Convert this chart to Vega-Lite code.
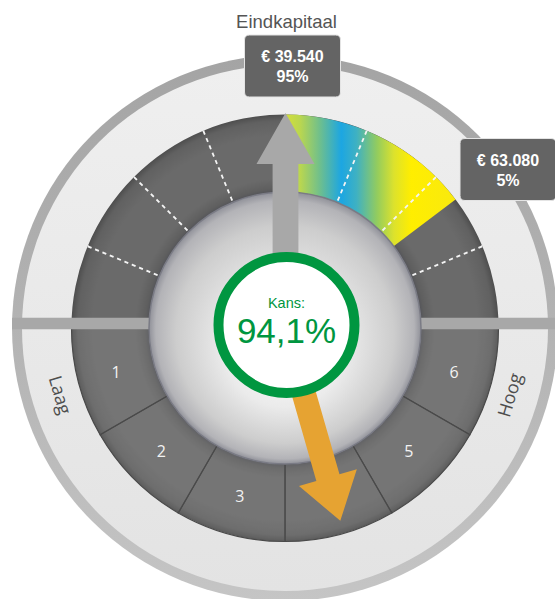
{
  "$schema": "https://vega.github.io/schema/vega-lite/v6.json",
  "width": 540,
  "height": 542,
  "autosize": {"type": "none"},
  "padding": {"left": 15, "top": 57, "right": 0, "bottom": 0},
  "background": "#ffffff",
  "config": {"view": {"stroke": null}, "text": {"font": "Liberation Sans"}},
  "datasets": {
    "verdeling": [{"van": 0, "tot": 53}],
    "grenzen": [{"hoek": 292.5}, {"hoek": 315}, {"hoek": 337.5}, {"hoek": 22.5}, {"hoek": 45}, {"hoek": 67.5}],
    "risicoprofiel": [
      {"profiel": "", "helft": "boven", "breedte": 90, "volgorde": 0},
      {"profiel": "6", "helft": "onder", "breedte": 30, "volgorde": 1},
      {"profiel": "5", "helft": "onder", "breedte": 30, "volgorde": 2},
      {"profiel": "4", "helft": "onder", "breedte": 30, "volgorde": 3},
      {"profiel": "3", "helft": "onder", "breedte": 30, "volgorde": 4},
      {"profiel": "2", "helft": "onder", "breedte": 30, "volgorde": 5},
      {"profiel": "1", "helft": "onder", "breedte": 30, "volgorde": 6},
      {"profiel": "", "helft": "boven", "breedte": 90, "volgorde": 7}
    ],
    "schaal": [{"tekst": "Laag", "hoek": 253.4}, {"tekst": "Hoog", "hoek": 106.6}],
    "pijlen": [{"pijl": "Eindkapitaal", "hoek": 0}, {"pijl": "Kans", "hoek": 164}],
    "kans": [{"label": "Kans:", "waarde": "94,1%"}],
    "eindkapitaal": [
      {"kop": "Eindkapitaal", "bedrag": "€ 39.540", "percentiel": "95%", "x": 7.5, "y": 262},
      {"kop": "", "bedrag": "€ 63.080", "percentiel": "5%", "x": 223, "y": 158.5}
    ]
  },
  "layer": [
    {
      "data": {"values": [{"onderdeel": "rand"}]},
      "mark": {"type": "arc", "theta": 0, "theta2": 6.2832, "outerRadius": 273, "innerRadius": 0,
        "fill": {"gradient": "linear", "x1": 0, "y1": 0, "x2": 0, "y2": 1,
          "stops": [{"offset": 0, "color": "#a4a4a4"}, {"offset": 0.5, "color": "#b3b3b3"}, {"offset": 1, "color": "#c5c5c5"}]}},
      "encoding": {}
    },
    {
      "data": {"values": [{"onderdeel": "ring"}]},
      "mark": {"type": "arc", "theta": 0, "theta2": 6.2832, "outerRadius": 263, "innerRadius": 0,
        "fill": {"gradient": "linear", "x1": 0, "y1": 0, "x2": 0, "y2": 1,
          "stops": [{"offset": 0, "color": "#efefef"}, {"offset": 1, "color": "#e3e3e3"}]}},
      "encoding": {}
    },
    {
      "data": {"values": [{"onderdeel": "wijzerplaat"}]},
      "mark": {"type": "arc", "theta": 0, "theta2": 6.2832, "outerRadius": 213.5, "innerRadius": 136,
        "fill": {"gradient": "radial", "x1": 0.5, "y1": 0.5, "r1": 0, "x2": 0.5, "y2": 0.5, "r2": 0.5,
          "stops": [
            {"offset": 0.63, "color": "#505158"},
            {"offset": 0.655, "color": "#5f5f5f"},
            {"offset": 0.7, "color": "#6a6a6a"},
            {"offset": 0.9, "color": "#6a6a6a"},
            {"offset": 0.97, "color": "#616161"},
            {"offset": 1, "color": "#4e4e4e"}
          ]}},
      "encoding": {}
    },
    {
      "data": {"name": "risicoprofiel"},
      "mark": {"type": "arc", "outerRadius": 213.5, "innerRadius": 136, "fill": "#ffffff", "fillOpacity": 0.08, "stroke": "#4a4a4a", "strokeWidth": 1.2},
      "encoding": {
        "theta": {"field": "breedte", "type": "quantitative", "stack": true, "scale": {"domain": [0, 360], "range": [0, 6.283185307179586]}},
        "order": {"field": "volgorde", "type": "quantitative"},
        "detail": {"field": "volgorde", "type": "nominal"},
        "opacity": {"condition": {"test": "datum.helft === 'boven'", "value": 0}, "value": 1}
      }
    },
    {
      "data": {"name": "verdeling"},
      "mark": {"type": "arc", "outerRadius": 213.5, "innerRadius": 136,
        "fill": {"gradient": "linear", "x1": 0, "y1": 0, "x2": 1, "y2": 0,
          "stops": [
            {"offset": 0, "color": "#d4df3a"},
            {"offset": 0.09, "color": "#b9d650"},
            {"offset": 0.2, "color": "#72c08a"},
            {"offset": 0.33, "color": "#1ca6e2"},
            {"offset": 0.42, "color": "#3fb1c2"},
            {"offset": 0.54, "color": "#93cc5e"},
            {"offset": 0.64, "color": "#dde22c"},
            {"offset": 0.74, "color": "#ffee00"},
            {"offset": 1, "color": "#f9e90f"}
          ]}},
      "encoding": {
        "theta": {"field": "van", "type": "quantitative", "stack": null, "scale": {"domain": [0, 360], "range": [0, 6.283185307179586]}},
        "theta2": {"field": "tot"}
      }
    },
    {
      "data": {"name": "grenzen"},
      "mark": {"type": "arc", "outerRadius": 213.5, "innerRadius": 136, "fill": "transparent", "stroke": "#f4f4f4", "strokeWidth": 1.8, "strokeDash": [3.97, 3.97]},
      "encoding": {
        "theta": {"field": "hoek", "type": "quantitative", "stack": null, "scale": {"domain": [0, 360], "range": [0, 6.283185307179586]}},
        "theta2": {"field": "hoek"}
      }
    },
    {
      "data": {"values": [{"onderdeel": "balk"}]},
      "mark": {"type": "rule", "color": "#a8a8a8", "strokeWidth": 11.5, "strokeCap": "butt"},
      "encoding": {
        "x": {"datum": -273, "type": "quantitative", "scale": {"domain": [-270, 270], "nice": false, "zero": false}, "axis": null},
        "x2": {"datum": 273},
        "y": {"datum": 4.5, "type": "quantitative", "scale": {"domain": [-271, 271], "nice": false, "zero": false}, "axis": null}
      }
    },
    {
      "data": {"values": [{"onderdeel": "bol"}]},
      "mark": {"type": "arc", "theta": 0, "theta2": 6.2832, "outerRadius": 136, "innerRadius": 0, "stroke": "#7a7b85", "strokeWidth": 1.5,
        "fill": {"gradient": "radial", "x1": 0.5, "y1": 0.62, "r1": 0, "x2": 0.5, "y2": 0.5, "r2": 0.5,
          "stops": [
            {"offset": 0, "color": "#fbfbfb"},
            {"offset": 0.45, "color": "#ebebeb"},
            {"offset": 0.8, "color": "#cdcdcd"},
            {"offset": 0.95, "color": "#b3b3b7"},
            {"offset": 1, "color": "#909199"}
          ]}},
      "encoding": {}
    },
    {
      "data": {"name": "risicoprofiel"},
      "mark": {"type": "text", "radius": 175, "font": "Open Sans", "fontSize": 16, "fill": "#f2f2f2", "align": "center", "baseline": "middle"},
      "encoding": {
        "theta": {"field": "breedte", "type": "quantitative", "stack": true, "scale": {"domain": [0, 360], "range": [0, 6.283185307179586]}},
        "order": {"field": "volgorde", "type": "quantitative"},
        "detail": {"field": "volgorde", "type": "nominal"},
        "text": {"field": "profiel", "type": "nominal"}
      }
    },
    {
      "data": {"name": "schaal"},
      "mark": {"type": "text", "radius": 236, "font": "Open Sans", "fontSize": 18, "fill": "#4d4d4d", "align": "center", "baseline": "middle"},
      "encoding": {
        "theta": {"field": "hoek", "type": "quantitative", "stack": null, "scale": {"domain": [0, 360], "range": [0, 6.283185307179586]}},
        "angle": {"field": "hoek", "type": "quantitative", "scale": {"domain": [0, 360], "range": [-180, 180]}},
        "text": {"field": "tekst", "type": "nominal"}
      }
    },
    {
      "data": {"name": "pijlen"},
      "transform": [{"filter": "datum.pijl === 'Eindkapitaal'"}],
      "mark": {"type": "point", "shape": "M-0.06,0L-0.06,0.763L-0.135,0.763L0,1L0.135,0.763L0.06,0.763L0.06,0Z", "size": 184900, "filled": true, "fill": "#a8a8a8", "strokeWidth": 0, "opacity": 1},
      "encoding": {
        "x": {"datum": 0.5, "type": "quantitative", "scale": {"domain": [-270, 270], "nice": false, "zero": false}, "axis": null},
        "y": {"datum": 0, "type": "quantitative", "scale": {"domain": [-271, 271], "nice": false, "zero": false}, "axis": null},
        "angle": {"field": "hoek", "type": "quantitative", "scale": {"domain": [0, 360], "range": [-180, 180]}}
      }
    },
    {
      "data": {"name": "pijlen"},
      "transform": [{"filter": "datum.pijl === 'Kans'"}],
      "mark": {"type": "point", "shape": "M-0.06,0L-0.06,0.776L-0.15,0.776L0,1L0.15,0.776L0.06,0.776L0.06,0Z", "size": 160961, "filled": true, "fill": "#e6a332", "strokeWidth": 0, "opacity": 1},
      "encoding": {
        "x": {"datum": 0, "type": "quantitative", "scale": {"domain": [-270, 270], "nice": false, "zero": false}, "axis": null},
        "y": {"datum": 0, "type": "quantitative", "scale": {"domain": [-271, 271], "nice": false, "zero": false}, "axis": null},
        "angle": {"field": "hoek", "type": "quantitative", "scale": {"domain": [0, 360], "range": [-180, 180]}}
      }
    },
    {
      "data": {"name": "kans"},
      "mark": {"type": "arc", "theta": 0, "theta2": 6.2832, "outerRadius": 68, "innerRadius": 0, "fill": "#ffffff", "stroke": "#009640", "strokeWidth": 10},
      "encoding": {
        "x": {"datum": 1.5, "type": "quantitative", "scale": {"domain": [-270, 270], "nice": false, "zero": false}, "axis": null},
        "y": {"datum": 3, "type": "quantitative", "scale": {"domain": [-271, 271], "nice": false, "zero": false}, "axis": null}
      }
    },
    {
      "data": {"name": "kans"},
      "mark": {"type": "text", "fontSize": 14.5, "fill": "#009640", "align": "center", "baseline": "alphabetic", "dy": -17.5},
      "encoding": {
        "x": {"datum": 1.5, "type": "quantitative", "scale": {"domain": [-270, 270], "nice": false, "zero": false}, "axis": null},
        "y": {"datum": 3, "type": "quantitative", "scale": {"domain": [-271, 271], "nice": false, "zero": false}, "axis": null},
        "text": {"field": "label", "type": "nominal"}
      }
    },
    {
      "data": {"name": "kans"},
      "mark": {"type": "text", "fontSize": 35, "fill": "#009640", "align": "center", "baseline": "alphabetic", "dy": 18},
      "encoding": {
        "x": {"datum": 1.5, "type": "quantitative", "scale": {"domain": [-270, 270], "nice": false, "zero": false}, "axis": null},
        "y": {"datum": 3, "type": "quantitative", "scale": {"domain": [-271, 271], "nice": false, "zero": false}, "axis": null},
        "text": {"field": "waarde", "type": "nominal"}
      }
    },
    {
      "data": {"name": "eindkapitaal"},
      "mark": {"type": "point", "shape": "M-0.86,-0.62L0.86,-0.62Q0.96,-0.62 0.96,-0.52L0.96,0.52Q0.96,0.62 0.86,0.62L-0.86,0.62Q-0.96,0.62 -0.96,0.52L-0.96,-0.52Q-0.96,-0.62 -0.86,-0.62Z", "size": 10000, "filled": true, "fill": "#646464", "stroke": "#e4e4e4", "strokeWidth": 1, "opacity": 1},
      "encoding": {
        "x": {"field": "x", "type": "quantitative", "scale": {"domain": [-270, 270], "nice": false, "zero": false}, "axis": null},
        "y": {"field": "y", "type": "quantitative", "scale": {"domain": [-271, 271], "nice": false, "zero": false}, "axis": null}
      }
    },
    {
      "data": {"name": "eindkapitaal"},
      "mark": {"type": "text", "fontSize": 16, "fontWeight": "bold", "fill": "#ffffff", "align": "center", "baseline": "alphabetic", "dy": -4},
      "encoding": {
        "x": {"field": "x", "type": "quantitative", "scale": {"domain": [-270, 270], "nice": false, "zero": false}, "axis": null},
        "y": {"field": "y", "type": "quantitative", "scale": {"domain": [-271, 271], "nice": false, "zero": false}, "axis": null},
        "text": {"field": "bedrag", "type": "nominal"}
      }
    },
    {
      "data": {"name": "eindkapitaal"},
      "mark": {"type": "text", "fontSize": 16, "fontWeight": "bold", "fill": "#ffffff", "align": "center", "baseline": "alphabetic", "dy": 16},
      "encoding": {
        "x": {"field": "x", "type": "quantitative", "scale": {"domain": [-270, 270], "nice": false, "zero": false}, "axis": null},
        "y": {"field": "y", "type": "quantitative", "scale": {"domain": [-271, 271], "nice": false, "zero": false}, "axis": null},
        "text": {"field": "percentiel", "type": "nominal"}
      }
    },
    {
      "data": {"name": "eindkapitaal"},
      "mark": {"type": "text", "fontSize": 18.5, "fill": "#555555", "align": "center", "baseline": "alphabetic", "dy": -38, "dx": -6},
      "encoding": {
        "x": {"field": "x", "type": "quantitative", "scale": {"domain": [-270, 270], "nice": false, "zero": false}, "axis": null},
        "y": {"field": "y", "type": "quantitative", "scale": {"domain": [-271, 271], "nice": false, "zero": false}, "axis": null},
        "text": {"field": "kop", "type": "nominal"}
      }
    }
  ]
}
